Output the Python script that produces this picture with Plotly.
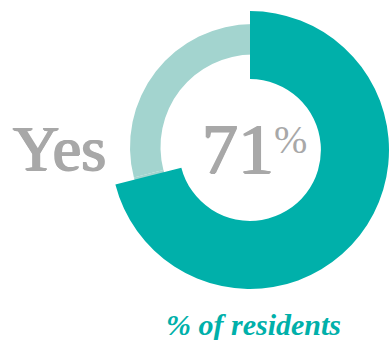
import plotly.graph_objects as go

# Data
labels = ["Yes", "No"]
values = [71, 29]
headline_label = "Yes"
headline_value = "71"
caption = "% of residents"

TEAL = "#00B0AA"
LIGHT = "#A3D4CF"
GRAY = "#A8A8A8"
W, H = 389, 340

fig = go.Figure()

# light background track ring (drawn first, under the teal slice)
fig.add_trace(go.Pie(
    labels=labels, values=values, sort=False, direction="clockwise", rotation=0,
    hole=0.752, marker=dict(colors=[LIGHT, LIGHT], line=dict(width=0)),
    textinfo="none", hoverinfo="skip", showlegend=False,
    domain=dict(x=[130 / W, 376 / W], y=[1 - 270 / H, 1 - 24 / H]),
))
# teal "Yes" slice
fig.add_trace(go.Pie(
    labels=labels, values=values, sort=False, direction="clockwise", rotation=0,
    hole=0.51, marker=dict(colors=[TEAL, "rgba(0,0,0,0)"], line=dict(width=0)),
    textinfo="none", showlegend=False,
    domain=dict(x=[111 / W, 1.0], y=[1 - 289 / H, 1 - 11 / H]),
))

serif = "Liberation Serif"
thick = f"1px 0 0 {GRAY}, -1px 0 0 {GRAY}, 0 0.6px 0 {GRAY}"
fig.add_annotation(text=headline_label, xref="paper", yref="paper",
                   x=11 / W, y=1 - 148.5 / H, xanchor="left", yanchor="middle",
                   showarrow=False, font=dict(family=serif, size=64, color=GRAY, shadow=thick))
fig.add_annotation(text=headline_value, xref="paper", yref="paper",
                   x=276 / W, y=1 - 149 / H, xanchor="right", yanchor="middle",
                   showarrow=False, font=dict(family=serif, size=72, color=GRAY, shadow=thick))
fig.add_annotation(text="%", xref="paper", yref="paper",
                   x=272 / W, y=1 - 139.5 / H, xanchor="left", yanchor="middle",
                   showarrow=False, font=dict(family=serif, size=40, color=GRAY))
fig.add_annotation(text=caption, xref="paper", yref="paper",
                   x=253 / W, y=1 - 324 / H, xanchor="center", yanchor="middle",
                   showarrow=False,
                   font=dict(family=serif, size=30, color=TEAL, style="italic", weight="bold"))

fig.update_layout(width=W, height=H, margin=dict(l=0, r=0, t=0, b=0),
                  paper_bgcolor="white", plot_bgcolor="white", showlegend=False)

fig.write_html("out.html")
